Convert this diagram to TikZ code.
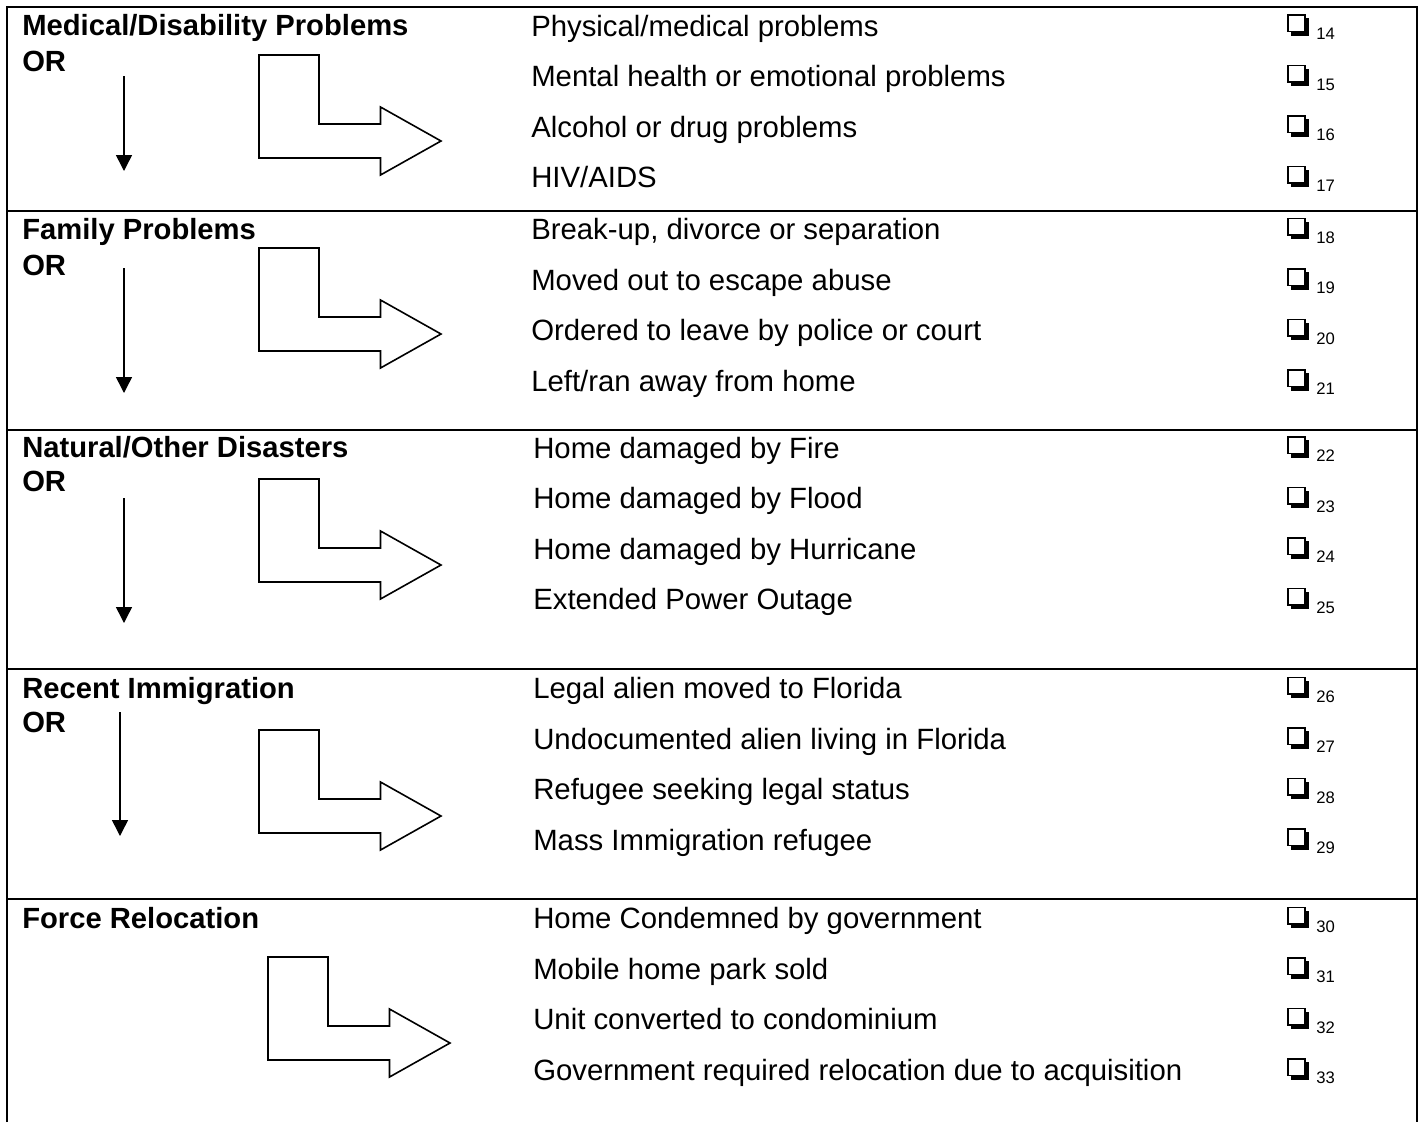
\documentclass[tikz,border=0pt]{standalone}
\usepackage{fontspec}
\setmainfont{Liberation Sans}
\usepackage{tikz}
\usetikzlibrary{arrows.meta}

\tikzset{
  frame/.style={line width=1.5pt},
  head/.style={anchor=base west, inner sep=0pt, font=\bfseries\fontsize{21.9}{24}\selectfont},
  entry/.style={anchor=base west, inner sep=0pt, font=\fontsize{22}{24}\selectfont},
  num/.style={anchor=base west, inner sep=0pt, font=\fontsize{12.5}{13}\selectfont},
  downarr/.style={line width=1.1pt, -{Triangle[length=12pt,width=12pt]}},
  bigarr/.style={line width=1.2pt, line join=miter},
  chkbox/.pic={
    \fill (3,16.5) rectangle (21,20.5);
    \fill (17,3) rectangle (21,20.5);
    \draw[line width=1.4pt] (0,0) rectangle (17,16.5);
  },
  larrow/.pic={
    \draw[bigarr] (0,0) -- (60,0) -- (60,69) -- (121.5,69) -- (121.5,52)
      -- (182,86) -- (121.5,120) -- (121.5,103) -- (0,103) -- cycle;
  }
}

\begin{document}
\begin{tikzpicture}[x=0.75pt, y=-0.75pt]
    \useasboundingbox (0,0) rectangle (1424,1122);
    % frame and row lines
    \draw[frame] (6.5,1122) -- (6.5,7) -- (1417,7) -- (1417,1122);
    \foreach \y in {211,430,669,899}
    \draw[frame] (6.5,\y) -- (1417,\y);

    % left column
    \node[head] (hmed) at (22,35.5) {Medical/Disability Problems};
    \node[head] (or1) at (22,71) {OR};
    \node[head] (hfam) at (22,239.5) {Family Problems};
    \node[head] (or2) at (22,275) {OR};
    \node[head] (hnat) at (22,457.5) {Natural/Other Disasters};
    \node[head] (or3) at (22,491) {OR};
    \node[head] (himm) at (22,698) {Recent Immigration};
    \node[head] (or4) at (22,732) {OR};
    \node[head] (hfor) at (22,928) {Force Relocation};

    \coordinate (d1a) at (124,76);  \coordinate (d1b) at (124,171);
    \coordinate (d2a) at (124,268); \coordinate (d2b) at (124,393);
    \coordinate (d3a) at (124,498); \coordinate (d3b) at (124,623);
    \coordinate (d4a) at (120,712); \coordinate (d4b) at (120,836);
    \draw[downarr] (d1a) -- (d1b);
    \draw[downarr] (d2a) -- (d2b);
    \draw[downarr] (d3a) -- (d3b);
    \draw[downarr] (d4a) -- (d4b);

    \pic (arr1) at (259,55) {larrow};
    \pic (arr2) at (259,248) {larrow};
    \pic (arr3) at (259,479) {larrow};
    \pic (arr4) at (259,730) {larrow};
    \pic (arr5) at (268,957) {larrow};

    % right column, one loop per row
    \foreach \t [count=\k from 0] in {Physical/medical problems,
        Mental health or emotional problems, Alcohol or drug problems, HIV/AIDS}{
        \pgfmathsetmacro\yy{36+50.5*\k}
        \pgfmathtruncatemacro\nn{14+\k}
        \node[entry] (e\nn) at (531,\yy) {\t};
        \pic (b\nn) at (1288,\yy-21) {chkbox};
        \node[num] (n\nn) at (1316,\yy+3.5) {\nn};
    }
    \foreach \t [count=\k from 0] in {{Break-up, divorce or separation},
        Moved out to escape abuse, Ordered to leave by police or court,
        Left/ran away from home}{
        \pgfmathsetmacro\yy{239.5+50.5*\k}
        \pgfmathtruncatemacro\nn{18+\k}
        \node[entry] (e\nn) at (531,\yy) {\t};
        \pic (b\nn) at (1288,\yy-21) {chkbox};
        \node[num] (n\nn) at (1316,\yy+3.5) {\nn};
    }
    \foreach \t [count=\k from 0] in {Home damaged by Fire, Home damaged by Flood,
        Home damaged by Hurricane, Extended Power Outage}{
        \pgfmathsetmacro\yy{458+50.5*\k}
        \pgfmathtruncatemacro\nn{22+\k}
        \node[entry] (e\nn) at (533,\yy) {\t};
        \pic (b\nn) at (1288,\yy-21) {chkbox};
        \node[num] (n\nn) at (1316,\yy+3.5) {\nn};
    }
    \foreach \t [count=\k from 0] in {Legal alien moved to Florida,
        Undocumented alien living in Florida, Refugee seeking legal status,
        Mass Immigration refugee}{
        \pgfmathsetmacro\yy{698.5+50.5*\k}
        \pgfmathtruncatemacro\nn{26+\k}
        \node[entry] (e\nn) at (533,\yy) {\t};
        \pic (b\nn) at (1288,\yy-21) {chkbox};
        \node[num] (n\nn) at (1316,\yy+3.5) {\nn};
    }
    \foreach \t [count=\k from 0] in {Home Condemned by government,
        Mobile home park sold, Unit converted to condominium,
        Government required relocation due to acquisition}{
        \pgfmathsetmacro\yy{928.5+50.5*\k}
        \pgfmathtruncatemacro\nn{30+\k}
        \node[entry] (e\nn) at (533,\yy) {\t};
        \pic (b\nn) at (1288,\yy-21) {chkbox};
        \node[num] (n\nn) at (1316,\yy+3.5) {\nn};
    }
\end{tikzpicture}
\end{document}
